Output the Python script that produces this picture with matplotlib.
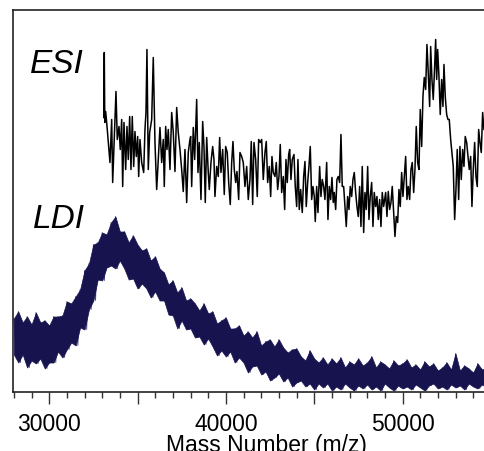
import matplotlib
matplotlib.use("Agg")
import matplotlib.pyplot as plt
from matplotlib.ticker import MultipleLocator

plt.rcParams['font.family'] = ['Liberation Sans', 'DejaVu Sans']

# ESI spectrum (mass, intensity in arbitrary units, offset above LDI)
esi_mass = [33090, 33119, 33147, 33198, 33288, 33441, 33538, 33594, 33685, 33781,
            33854, 33951, 34024, 34104, 34160, 34234, 34330, 34403, 34477, 34556,
            34630, 34703, 34783, 34856, 34930, 35009, 35066, 35139, 35236, 35349,
            35422, 35479, 35535, 35609, 35688, 35802, 35892, 35988, 36085, 36175,
            36271, 36368, 36458, 36515, 36594, 36667, 36741, 36837, 36934, 37024,
            37120, 37217, 37307, 37403, 37500, 37590, 37686, 37783, 37873, 37969,
            38009, 38066, 38156, 38235, 38349, 38422, 38496, 38592, 38688, 38762,
            38835, 38915, 39005, 39062, 39158, 39254, 39328, 39384, 39481, 39571,
            39650, 39724, 39820, 39911, 39990, 40080, 40160, 40250, 40330, 40403,
            40477, 40556, 40629, 40726, 40799, 40896, 40986, 41082, 41179, 41269,
            41365, 41439, 41518, 41592, 41688, 41778, 41858, 41948, 42028, 42118,
            42214, 42288, 42367, 42458, 42537, 42610, 42684, 42780, 42854, 42933,
            43007, 43080, 43160, 43250, 43329, 43403, 43476, 43556, 43612, 43686,
            43759, 43856, 43929, 44009, 44082, 44156, 44235, 44325, 44405, 44478,
            44552, 44631, 44705, 44778, 44858, 44931, 45005, 45061, 45141, 45214,
            45310, 45384, 45457, 45537, 45610, 45707, 45780, 45854, 45933, 46006,
            46080, 46137, 46216, 46289, 46363, 46442, 46516, 46589, 46669, 46742,
            46816, 46895, 46969, 47042, 47122, 47195, 47269, 47348, 47421, 47495,
            47574, 47648, 47721, 47801, 47874, 47948, 48027, 48101, 48174, 48254,
            48327, 48401, 48480, 48553, 48627, 48706, 48780, 48853, 48933, 49046,
            49119, 49193, 49272, 49346, 49419, 49499, 49572, 49646, 49725, 49799,
            49872, 49952, 50025, 50099, 50178, 50251, 50325, 50404, 50478, 50551,
            50631, 50704, 50778, 50857, 50931, 51004, 51084, 51157, 51231, 51310,
            51383, 51457, 51536, 51593, 51666, 51740, 51819, 51876, 51933, 51989,
            52063, 52136, 52216, 52289, 52346, 52419, 52499, 52572, 52646, 52725,
            52798, 52872, 52951, 53025, 53098, 53178, 53251, 53325, 53404, 53478,
            53551, 53631, 53704, 53778, 53857, 53930, 54004, 54083, 54157, 54230,
            54310, 54383, 54457, 54536, 54610]
esi_int = [274, 339, 269, 280, 262, 229, 272, 209, 252, 300,
           252, 265, 242, 272, 205, 269, 222, 265, 232, 275,
           222, 275, 225, 260, 235, 255, 215, 252, 229, 219,
           262, 279, 342, 222, 259, 272, 334, 249, 202, 232,
           264, 229, 252, 205, 265, 242, 262, 222, 279, 259,
           220, 284, 259, 242, 222, 200, 242, 189, 239, 252,
           255, 205, 264, 232, 292, 219, 249, 192, 270, 245,
           189, 254, 219, 202, 229, 245, 232, 195, 225, 215,
           254, 219, 242, 197, 245, 239, 209, 187, 229, 250,
           222, 209, 220, 192, 239, 235, 229, 205, 225, 192,
           212, 250, 187, 249, 232, 195, 252, 249, 252, 212,
           239, 250, 209, 225, 195, 235, 219, 215, 229, 202,
           215, 247, 199, 215, 182, 232, 209, 237, 242, 212,
           232, 237, 205, 185, 232, 182, 202, 179, 215, 230,
           185, 209, 225, 245, 192, 205, 195, 170, 205, 179,
           225, 195, 212, 205, 192, 229, 172, 205, 192, 214,
           189, 199, 182, 212, 215, 209, 257, 205, 205, 185,
           165, 195, 182, 205, 195, 212, 219, 199, 185, 175,
           205, 165, 225, 159, 199, 182, 225, 172, 195, 209,
           165, 199, 185, 195, 172, 192, 165, 199, 185, 199,
           175, 200, 182, 189, 205, 179, 155, 175, 169, 202,
           185, 219, 195, 215, 235, 192, 205, 192, 222, 229,
           199, 222, 265, 229, 222, 282, 245, 295, 314, 302,
           347, 319, 285, 345, 312, 292, 325, 352, 312, 342,
           315, 277, 312, 285, 327, 295, 277, 272, 272, 252,
           239, 225, 172, 202, 242, 192, 245, 212, 242, 225,
           255, 249, 235, 222, 235, 185, 222, 249, 215, 205,
           262, 249, 239, 279, 262]

# LDI spectrum: dense noisy trace, given as upper / lower edge every 250 Da
ldi_mass = [28000 + 250 * i for i in range(108)]
ldi_hi = [73, 80, 69, 75, 67, 79, 69, 71, 66, 75,
          75, 76, 90, 88, 95, 102, 121, 128, 147, 149,
          159, 157, 169, 175, 160, 160, 149, 156, 147, 141,
          143, 131, 135, 123, 119, 107, 111, 99, 104, 91,
          93, 88, 81, 88, 78, 80, 68, 71, 74, 63,
          63, 66, 56, 60, 54, 60, 46, 50, 52, 45,
          52, 44, 39, 42, 43, 35, 31, 41, 33, 29,
          34, 27, 33, 28, 34, 24, 30, 27, 33, 26,
          29, 35, 24, 30, 27, 23, 31, 26, 28, 32,
          24, 27, 22, 30, 25, 28, 21, 24, 29, 22,
          38, 21, 26, 23, 19, 28, 22, 24]
ldi_lo = [37, 29, 37, 24, 31, 28, 33, 23, 29, 29,
          40, 34, 42, 49, 46, 64, 62, 82, 91, 112,
          111, 124, 126, 123, 131, 123, 112, 113, 103, 108,
          103, 94, 100, 91, 91, 77, 76, 63, 71, 62,
          63, 54, 55, 47, 53, 45, 36, 41, 35, 40,
          29, 34, 29, 19, 25, 26, 17, 20, 11, 14,
          18, 10, 14, 5, 9, 11, 5, 8, 2, 8,
          4, 8, 1, 5, 2, 8, 4, 1, 6, 3,
          7, 2, 5, 1, 8, 4, 1, 6, 3, 5,
          2, 7, 4, 1, 6, 8, 3, 5, 2, 7,
          4, 6, 2, 8, 5, 3, 7, 4]

tick_values = [30000, 35000, 40000, 45000, 50000, 55000]
tick_labels = ['30000', '', '40000', '', '50000', '']

navy = '#16134f'

fig = plt.figure(figsize=(4.84, 4.52), dpi=100)
ax = fig.add_axes([0.0262, 0.1316, 1.050, 0.843])

ax.fill_between(ldi_mass, ldi_lo, ldi_hi, color=navy, linewidth=0.5, edgecolor=navy)
zx, zy = [], []
for m, h, l in zip(ldi_mass, ldi_hi, ldi_lo):
    zx += [m, m + 125]
    zy += [h, l]
ax.plot(zx, zy, color=navy, lw=0.6, alpha=0.8)

ax.plot(esi_mass, esi_int, color='black', lw=1.1)

ax.text(28913, 319, 'ESI', fontsize=24, fontstyle='italic', ha='left', va='baseline')
ax.text(29083, 165, 'LDI', fontsize=24, fontstyle='italic', ha='left', va='baseline')

ax.set_xlim(27934, 56700)
ax.set_ylim(0, 381)
ax.set_yticks([])
ax.set_xticks(tick_values, tick_labels)
ax.xaxis.set_minor_locator(MultipleLocator(1000))
ax.tick_params(axis='x', which='major', direction='out', length=8.6, width=1.0,
               color='#333333', labelsize=16.5, pad=6.5)
ax.tick_params(axis='x', which='minor', direction='out', length=4.3, width=1.0,
               color='#333333')
for s in ['left', 'bottom', 'top']:
    ax.spines[s].set_color('#222222')
    ax.spines[s].set_linewidth(1.2)
ax.spines['right'].set_visible(False)
ax.set_xlabel('Mass Number (m/z)', fontsize=16.5, labelpad=-2)

fig.savefig('out.png', dpi=100)
